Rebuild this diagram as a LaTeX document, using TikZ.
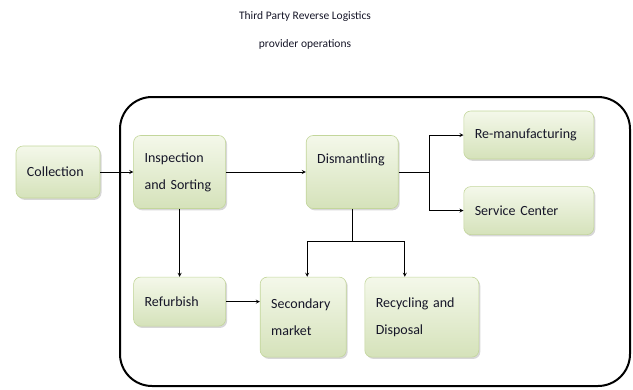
\documentclass[tikz,border=0pt]{standalone}
\usepackage{fontspec}
\setmainfont{Carlito}
\usepackage{tikz}
\usetikzlibrary{shapes, arrows, positioning, calc, shadows}

\definecolor{inktext}{HTML}{161628}
\definecolor{boxtop}{HTML}{F4F8EA}
\definecolor{boxbottom}{HTML}{D5E2BA}
\definecolor{boxedge}{HTML}{C3D69B}

\begin{document}
\begin{tikzpicture}[x=1pt, y=-1pt]
    % Styles
    \tikzstyle{title} = [align=center, text=inktext, font=\fontsize{11.5}{28}\selectfont]
    \tikzstyle{stage} = [rectangle, rounded corners=7pt, draw=boxedge, line width=0.6pt, top color=boxtop, bottom color=boxbottom, drop shadow={shadow xshift=1.5pt, shadow yshift=-1.8pt, opacity=0.35, fill=black!45}, inner xsep=11pt, inner ysep=0pt, align=left, text=inktext, font=\fontsize{14}{27}\selectfont]
    \tikzstyle{arrow} = [line width=0.8pt,->,>=stealth]
    \tikzstyle{frame} = [line width=2pt, rounded corners=32pt]

    \useasboundingbox (0,0) rectangle (633,389);

    % Title
    \node [title] (head) at (305,30) {Third Party Reverse Logistics\\provider operations};

    % Operations frame
    \draw [frame] (120,97) rectangle (630,386);

    % Nodes
    \node [stage, text width=62pt, minimum height=52pt] (collect) at (58,172) {Collection};
    \node [stage, text width=70pt, minimum height=73pt, right=33pt of collect] (inspect) {Inspection\\and Sorting};
    \node [stage, text width=70pt, minimum height=73pt, right=80pt of inspect] (dismantle) {Dismantling\\\mbox{}};
    \node [stage, text width=108pt, minimum height=48pt, right=65pt of dismantle, yshift=37pt] (remanu) {Re-manufacturing};
    \node [stage, text width=108pt, minimum height=48pt, below=27pt of remanu] (service) {Service Center};

    % Lower row
    \node [stage, text width=70pt, minimum height=49pt, below=68pt of inspect] (refurb) {Refurbish};
    \node [stage, text width=64pt, minimum height=80pt, below right=68pt and 34pt of inspect] (second) {Secondary\\market};
    \node [stage, text width=92pt, minimum height=80pt, right=18pt of second] (recycle) {Recycling and\\Disposal};

    % Connections
    \draw [arrow] (collect.east) -- (collect.east -| inspect.west);
    \draw [arrow] (inspect.east) -- (inspect.east -| dismantle.west);
    \draw [arrow] (inspect.south) -- (refurb.north);
    \draw [arrow] (refurb.east) -- (refurb.east -| second.west);

    % Dismantling branches
    \coordinate [right=31pt of dismantle.east] (fork);
    \coordinate [below=33pt of dismantle.south] (split);
    \draw [line width=0.8pt] (dismantle.east) -- (fork);
    \draw [arrow] (fork) |- (remanu.west);
    \draw [arrow] (fork) |- (service.west);
    \draw [line width=0.8pt] (dismantle.south) -- (split);
    \draw [arrow] (split) -| ([xshift=4pt]second.north);
    \draw [arrow] (split) -| ([xshift=-17pt]recycle.north);

\end{tikzpicture}
\end{document}
